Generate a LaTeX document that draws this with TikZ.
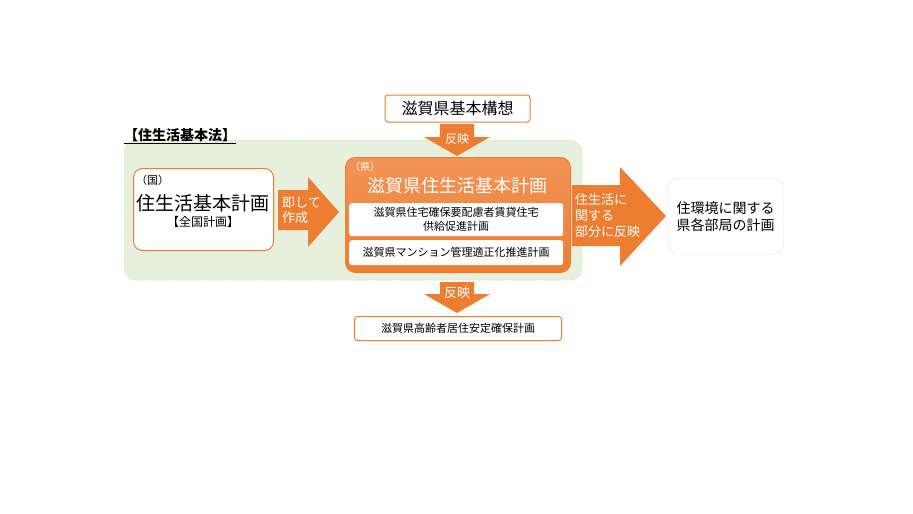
\documentclass[tikz,border=0pt]{standalone}
\usepackage{fontspec}
\setmainfont{Noto Sans CJK JP}
\definecolor{org}{HTML}{ED7D31}
\definecolor{orgl}{HTML}{F29457}
\definecolor{grn}{HTML}{E6F0DC}
\definecolor{grnb}{HTML}{A9C48F}
\begin{document}
\begin{tikzpicture}[x=1pt,y=-1pt,
  wbox/.style={draw=org,line width=1pt,fill=white,rounded corners=5pt},
  sbox/.style={fill=white,rounded corners=3pt},
  arr/.style={fill=org},
  lbl/.style={text=white,font=\fontsize{12}{14}\selectfont,align=left,inner sep=0pt}]
\useasboundingbox (0,0) rectangle (913,514);
% green region
\node[draw=grnb,densely dotted,fill=grn,rounded corners=12pt,minimum width=458pt,minimum height=140pt,anchor=north west] (law) at (124,140) {};
\node[anchor=west,font=\bfseries\fontsize{14}{16}\selectfont,inner sep=0pt] (lawt) at (124,136) {\underline{【住生活基本法】}};
% top box
\node[wbox,rounded corners=3pt,minimum width=145pt,minimum height=27pt,font=\fontsize{16}{18}\selectfont] (kihon) at (457.5,108.5) {滋賀県基本構想};
% top arrow
\fill[arr] (440,124) -- (474,124) -- (474,137) -- (490,137) -- (457,156) -- (424,137) -- (440,137) -- cycle;
\node[lbl] (h1) at (457,139) {反映};
% main box
\node[draw=org,line width=1pt,top color=orgl,bottom color=org,rounded corners=10pt,minimum width=225pt,minimum height=115pt,anchor=north west] (main) at (345,157) {};
\node[lbl,font=\fontsize{10}{12}\selectfont,anchor=west] (ken) at (350,167) {（県）};
\node[lbl,font=\fontsize{18}{20}\selectfont] (mt) at (457,186) {滋賀県住生活基本計画};
\node[sbox,minimum width=214pt,minimum height=33pt,align=center,font=\fontsize{11}{14}\selectfont,anchor=north west] (s1) at (349,203) {滋賀県住宅確保要配慮者賃貸住宅\\供給促進計画};
\node[sbox,minimum width=214pt,minimum height=25pt,font=\fontsize{11}{13}\selectfont,anchor=north west] (s2) at (349,240) {滋賀県マンション管理適正化推進計画};
% left box
\node[wbox,rounded corners=9pt,minimum width=140pt,minimum height=82pt,anchor=north west] (kuni) at (133,168) {};
\node[anchor=west,font=\fontsize{11}{13}\selectfont,inner sep=0pt] (kn) at (136,180) {（国）};
\node[font=\fontsize{19}{21}\selectfont,inner sep=0pt] (kt) at (203,203) {住生活基本計画};
\node[font=\fontsize{12}{14}\selectfont,inner sep=0pt] (kz) at (203,222) {【全国計画】};
% left arrow
\fill[arr] (278,190) -- (308,190) -- (308,177) -- (339,212) -- (308,247) -- (308,230) -- (278,230) -- cycle;
\node[lbl,anchor=west,font=\fontsize{13}{15}\selectfont] (a1) at (282,210) {即して\\作成};
% right arrow
\fill[arr] (572,185) -- (620,185) -- (620,167) -- (666,216) -- (620,266) -- (620,246) -- (572,246) -- cycle;
\node[lbl,anchor=west,font=\fontsize{13}{16}\selectfont] (a2) at (575,216) {住生活に\\関する\\部分に反映};
% right box
\node[draw=gray!70,densely dotted,fill=white,rounded corners=9pt,minimum width=115pt,minimum height=76pt,anchor=north west] (right) at (668,178) {};
\node[font=\fontsize{14}{17}\selectfont,align=center] (rt) at (right.center) {住環境に関する\\県各部局の計画};
% bottom arrow
\fill[arr] (440,282) -- (474,282) -- (474,294) -- (490,294) -- (457,313) -- (424,294) -- (440,294) -- cycle;
\node[lbl,font=\fontsize{13}{15}\selectfont] (h2) at (457,293) {反映};
% bottom box
\node[wbox,rounded corners=3pt,minimum width=207pt,minimum height=24pt,anchor=north west] (bot) at (354,316) {};
\node[font=\fontsize{11}{13}\selectfont] (bt) at (bot.center) {滋賀県高齢者居住安定確保計画};
\end{tikzpicture}
\end{document}
